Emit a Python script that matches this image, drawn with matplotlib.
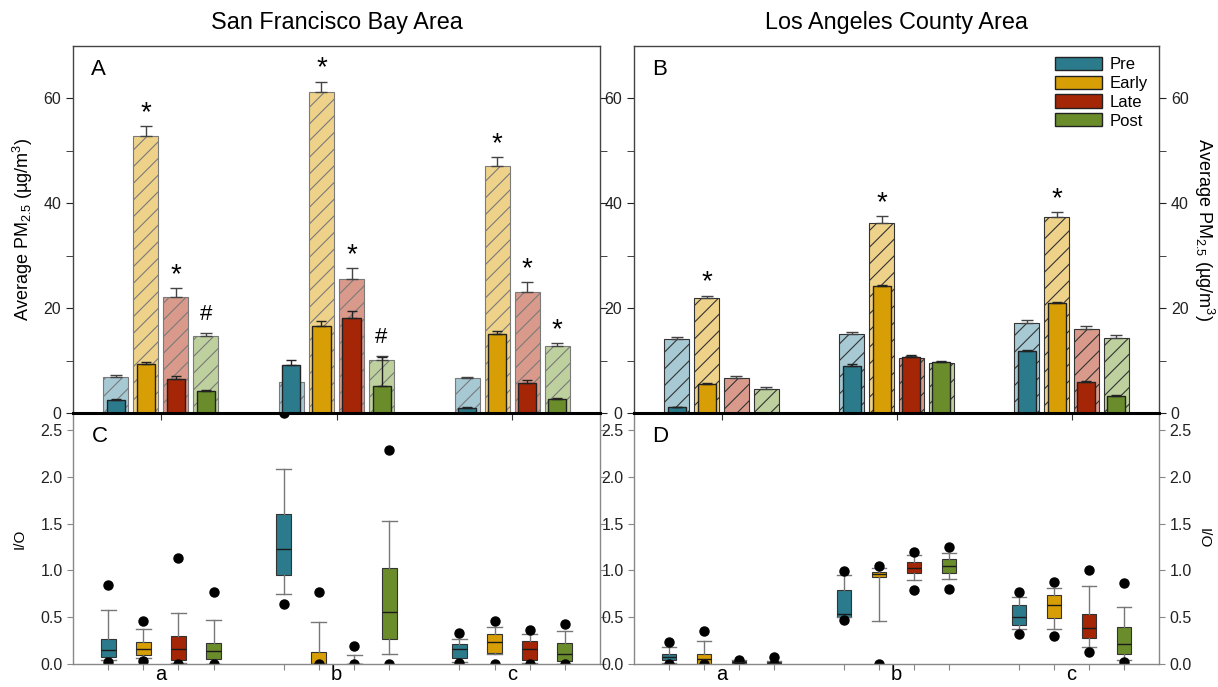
import numpy as np
import matplotlib
matplotlib.use('Agg')
import matplotlib.pyplot as plt
from matplotlib.patches import Patch

plt.rcParams['font.family'] = ['Liberation Sans', 'DejaVu Sans']
plt.rcParams['mathtext.fontset'] = 'custom'
plt.rcParams['mathtext.rm'] = 'Liberation Sans'
plt.rcParams['mathtext.it'] = 'Liberation Sans:italic'
plt.rcParams['hatch.linewidth'] = 0.8

sites = ['a', 'b', 'c']
phases = ['Pre', 'Early', 'Late', 'Post']

# top panels: rows = site a/b/c, cols = Pre/Early/Late/Post
sf_out = [[6.9, 52.9, 22.1, 14.7], [6.0, 61.3, 25.6, 10.2], [6.6, 47.1, 23.1, 12.8]]
sf_out_err = [[0.4, 1.8, 1.7, 0.5], [0.0, 1.9, 2.0, 0.6], [0.3, 1.7, 1.8, 0.5]]
sf_in = [[2.4, 9.4, 6.4, 4.2], [9.2, 16.6, 18.1, 5.2], [1.0, 15.0, 5.8, 2.6]]
sf_in_err = [[0.2, 0.4, 0.6, 0.2], [1.0, 0.9, 1.3, 5.4], [0.1, 0.6, 0.4, 0.2]]
sf_marks = [['', '*', '*', '#'], ['', '*', '*', '#'], ['', '*', '*', '*']]

la_out = [[14.1, 21.9, 6.7, 4.6], [15.0, 36.3, 10.4, 9.5], [17.2, 37.4, 16.0, 14.3]]
la_out_err = [[0.4, 0.5, 0.4, 0.3], [0.5, 1.3, 0.5, 0.3], [0.5, 0.9, 0.5, 0.6]]
la_in = [[1.1, 5.5, np.nan, np.nan], [9.0, 24.2, 10.6, 9.7], [11.8, 20.9, 5.9, 3.3]]
la_in_err = [[0.1, 0.3, 0.0, 0.0], [0.3, 0.3, 0.5, 0.3], [0.2, 0.3, 0.2, 0.2]]
la_marks = [['', '*', '', ''], ['', '*', '', ''], ['', '*', '', '']]

# bottom panels: I/O box stats, order a-Pre, a-Early, ... c-Post
sf_q1 = [0.08, 0.10, 0.045, 0.055, 0.955, 0.0, 0.0, 0.27, 0.065, 0.12, 0.04, 0.03]
sf_med = [0.15, 0.165, 0.165, 0.135, 1.23, 0.0, 0.0, 0.55, 0.16, 0.235, 0.165, 0.11]
sf_q3 = [0.27, 0.24, 0.30, 0.225, 1.60, 0.125, 0.0, 1.03, 0.21, 0.325, 0.245, 0.225]
sf_lo = [0.04, 0.065, 0.01, 0.005, 0.75, 0.0, 0.0, 0.11, 0.02, 0.11, 0.01, 0.005]
sf_hi = [0.58, 0.375, 0.545, 0.47, 2.08, 0.45, 0.10, 1.53, 0.27, 0.40, 0.315, 0.35]
sf_fliers = [[0.84, 0.02], [0.46, 0.035], [1.135, 0.005], [0.77, 0.0],
             [0.645, 2.68], [0.77, 0.0], [0.19, 0.0], [2.29, 0.0],
             [0.33, 0.01], [0.455, 0.0], [0.36, 0.0], [0.43, 0.0]]

la_q1 = [0.04, 0.0, 0.01, 0.0, 0.50, 0.93, 0.975, 0.975, 0.42, 0.49, 0.28, 0.11]
la_med = [0.08, 0.05, 0.02, 0.01, 0.53, 0.963, 1.03, 1.045, 0.50, 0.63, 0.38, 0.215]
la_q3 = [0.107, 0.11, 0.03, 0.02, 0.795, 0.985, 1.09, 1.12, 0.63, 0.74, 0.53, 0.395]
la_lo = [0.01, 0.0, 0.005, 0.0, 0.50, 0.46, 0.90, 0.91, 0.37, 0.375, 0.18, 0.045]
la_hi = [0.18, 0.25, 0.04, 0.03, 0.95, 1.02, 1.16, 1.19, 0.72, 0.81, 0.83, 0.61]
la_fliers = [[0.235, 0.005], [0.35, 0.0], [0.045, 0.0], [0.08, 0.0],
             [0.99, 0.467], [1.045, 0.0], [1.20, 0.795], [1.245, 0.80],
             [0.77, 0.325], [0.877, 0.30], [1.0, 0.125], [0.86, 0.02]]

dark = ['#2c7b8c', '#d79e05', '#a42607', '#6a8c2b']
light = ['#a6c9d4', '#efd28a', '#d99a8c', '#bdd09d']

W, H = 1218, 687
fig = plt.figure(figsize=(W / 100, H / 100), dpi=100)

def rect(x0, x1, y0, y1):
    return [x0 / W, 1 - y1 / H, (x1 - x0) / W, (y1 - y0) / H]

axC = fig.add_axes(rect(73, 600, 413, 664))
axD = fig.add_axes(rect(634, 1159, 413, 664))
axA = fig.add_axes(rect(73, 600, 46, 413))
axB = fig.add_axes(rect(634, 1159, 46, 413))

groups = np.arange(3)
step = 0.171
star_fs = 20


def bar_panel(ax, out, out_err, inn, inn_err, marks, edge, hatch_edge):
    out = np.array(out)
    inn = np.array(inn)
    for j in range(4):
        x = groups + (j - 1.5) * step
        ax.bar(x, out[:, j], width=0.143, color=light[j], edgecolor=hatch_edge,
               hatch='//', linewidth=0.8, zorder=2)
        ax.errorbar(x, out[:, j], yerr=[np.zeros(3), np.array(out_err)[:, j]],
                    fmt='none', ecolor='#444444', elinewidth=1, capsize=4, zorder=3)
        ax.bar(x, inn[:, j], width=0.103, color=dark[j], edgecolor=edge,
               linewidth=1.0, zorder=4)
        ax.errorbar(x, inn[:, j], yerr=[np.zeros(3), np.array(inn_err)[:, j]],
                    fmt='none', ecolor='#222222', elinewidth=1, capsize=3.5, zorder=5)
        for i in range(3):
            m = marks[i][j]
            if m:
                top = out[i, j] + out_err[i][j]
                off, fs = (0, star_fs) if m == '*' else (6, 16)
                ax.annotate(m, (x[i], top), xytext=(0, off), textcoords='offset points',
                            ha='center', va='bottom', fontsize=fs, zorder=6)
    ax.set_xlim(-0.5, 2.5)
    ax.set_ylim(0, 70)
    ax.set_yticks([0, 20, 40, 60])
    ax.set_yticks([10, 30, 50], minor=True)
    ax.set_xticks(groups)
    ax.set_xticklabels([])
    ax.tick_params(axis='y', which='both', direction='out', left=True, right=True,
                   labelsize=11.5, colors='#222222')
    ax.tick_params(axis='y', which='major', length=5)
    ax.tick_params(axis='y', which='minor', length=5)
    ax.tick_params(axis='x', direction='out', length=5, color='#333333')
    for s in ['left', 'right', 'top']:
        ax.spines[s].set_color('#444444')
        ax.spines[s].set_linewidth(1.0)
    ax.spines['bottom'].set_color('black')
    ax.spines['bottom'].set_linewidth(2.2)
    ax.spines['bottom'].set_zorder(7)


bar_panel(axA, sf_out, sf_out_err, sf_in, sf_in_err, sf_marks, '#222222', '#7a7a7a')
bar_panel(axB, la_out, la_out_err, la_in, la_in_err, la_marks, '#222222', '#333333')

pm_label = 'Average PM$_\\mathregular{2.5}$ (\u00b5g/m$^\\mathregular{3}$)'
axA.tick_params(axis='y', labelright=False)
axA.set_ylabel(pm_label, fontsize=13, labelpad=6)
axB.tick_params(axis='y', labelleft=True, labelright=True)
axB.yaxis.set_label_position('right')
axB.set_ylabel(pm_label, fontsize=13, rotation=270, labelpad=20)

handles = [Patch(facecolor=dark[j], edgecolor='#222222', label=phases[j]) for j in range(4)]
axB.legend(handles=handles, loc='upper right', frameon=False, fontsize=12,
           handlelength=2.8, handleheight=0.85, labelspacing=0.2,
           handletextpad=0.5, borderaxespad=0.25)


def box_panel(ax, q1, med, q3, lo, hi, fliers):
    stats = []
    for k in range(12):
        stats.append({'q1': q1[k], 'med': med[k], 'q3': q3[k], 'whislo': lo[k],
                      'whishi': hi[k], 'fliers': fliers[k]})
    pos = [g + (j - 1.5) * 0.2 for g in groups for j in range(4)]
    bp = ax.bxp(stats, positions=pos, widths=0.085, capwidths=0.085, patch_artist=True,
                boxprops=dict(edgecolor='#333333', linewidth=0.8),
                medianprops=dict(color='#1a1a1a', linewidth=1.0),
                whiskerprops=dict(color='#777777', linewidth=1.0),
                capprops=dict(color='#777777', linewidth=1.0),
                flierprops=dict(marker='o', markerfacecolor='black', markeredgecolor='black',
                                markersize=6.5))
    for k, b in enumerate(bp['boxes']):
        b.set_facecolor(dark[k % 4])
    ax.set_xlim(-0.5, 2.5)
    ax.set_ylim(0, 2.68)
    ax.set_yticks([0, 0.5, 1.0, 1.5, 2.0, 2.5])
    ax.set_yticklabels(['0.0', '0.5', '1.0', '1.5', '2.0', '2.5'])
    ax.set_xticks(pos)
    ax.set_xticklabels([])
    ax.set_xticks(groups, minor=True)
    ax.set_xticklabels(sites, minor=True, fontsize=14.5)
    ax.tick_params(axis='x', which='major', direction='out', length=4, color='#888888')
    ax.tick_params(axis='x', which='minor', length=0, pad=1)
    ax.tick_params(axis='y', direction='out', length=4, color='#888888', left=True,
                   right=True, labelsize=11.5, labelcolor='#222222')
    ax.spines['top'].set_visible(False)
    for s in ['left', 'right', 'bottom']:
        ax.spines[s].set_color('#888888')
        ax.spines[s].set_linewidth(1.0)


box_panel(axC, sf_q1, sf_med, sf_q3, sf_lo, sf_hi, sf_fliers)
box_panel(axD, la_q1, la_med, la_q3, la_lo, la_hi, la_fliers)
axC.set_ylabel('I/O', fontsize=11, labelpad=10)
axD.tick_params(axis='y', labelleft=True, labelright=True)
axD.yaxis.set_label_position('right')
axD.set_ylabel('I/O', fontsize=11, rotation=270, labelpad=14)

for ax, letter in [(axA, 'A'), (axB, 'B'), (axC, 'C'), (axD, 'D')]:
    ax.text(0.035, 0.965 if ax in (axA, axB) else 0.95, letter, transform=ax.transAxes,
            fontsize=16, va='top', ha='left')

fig.text((73 + 600) / 2 / W, 1 - 22 / H, 'San Francisco Bay Area', ha='center', va='center',
         fontsize=16.8)
fig.text((634 + 1159) / 2 / W, 1 - 22 / H, 'Los Angeles County Area', ha='center',
         va='center', fontsize=16.8)

fig.savefig('out.png', dpi=100)
